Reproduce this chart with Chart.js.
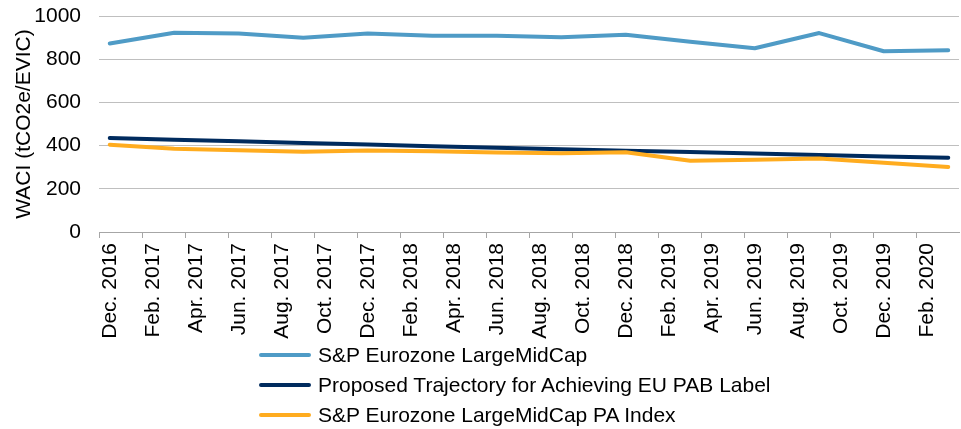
<!DOCTYPE html>
<html>
<head>
<meta charset="utf-8">
<script src="https://cdn.jsdelivr.net/npm/chart.js@4/dist/chart.umd.min.js"></script>
<style>
  html, body { margin: 0; padding: 0; background: #ffffff; }
  #wrap { position: relative; width: 961px; height: 429px; overflow: hidden; }
  #legend { position: absolute; left: 258px; top: 340px; font-family: "Liberation Sans", Arial, sans-serif; font-size: 21px; color: #000; }
  .row { height: 30px; line-height: 30px; display: flex; align-items: center; white-space: nowrap; }
  .swatch { width: 52px; height: 4px; border-radius: 2px; margin: 0 7px 0 1px; }
</style>
</head>
<body>
<div id="wrap">
  <canvas id="c" width="961" height="429"></canvas>
  <div id="legend"></div>
</div>
<script>
// Monthly category slots (date axis in months, labelled every two months)
const monthLabels = [
  "Dec. 2016","Jan. 2017","Feb. 2017","Mar. 2017","Apr. 2017","May 2017","Jun. 2017","Jul. 2017",
  "Aug. 2017","Sep. 2017","Oct. 2017","Nov. 2017","Dec. 2017","Jan. 2018","Feb. 2018","Mar. 2018",
  "Apr. 2018","May 2018","Jun. 2018","Jul. 2018","Aug. 2018","Sep. 2018","Oct. 2018","Nov. 2018",
  "Dec. 2018","Jan. 2019","Feb. 2019","Mar. 2019","Apr. 2019","May 2019","Jun. 2019","Jul. 2019",
  "Aug. 2019","Sep. 2019","Oct. 2019","Nov. 2019","Dec. 2019","Jan. 2020","Feb. 2020","Mar. 2020"
];
// Quarterly observation dates
const quarterDates = [
  "Dec. 2016","Mar. 2017","Jun. 2017","Sep. 2017","Dec. 2017","Mar. 2018","Jun. 2018",
  "Sep. 2018","Dec. 2018","Mar. 2019","Jun. 2019","Sep. 2019","Dec. 2019","Mar. 2020"
];
const seriesNames = [
  "S&P Eurozone LargeMidCap",
  "Proposed Trajectory for Achieving EU PAB Label",
  "S&P Eurozone LargeMidCap PA Index"
];
const eurozoneValues   = [873, 922, 919, 899, 919, 908, 908, 902, 913, 881, 851, 921, 837, 841];
const trajectoryValues = [435, 427, 420, 412, 405, 397, 390, 383, 376, 370, 363, 356, 350, 344];
const paIndexValues    = [404, 385, 378, 372, 377, 374, 368, 365, 369, 330, 334, 340, 321, 301];
const yTicks = [0, 200, 400, 600, 800, 1000];

const seriesColors = ["#4f9bc6", "#002b5e", "#ffac1f"];
const FONT = "'Liberation Sans', Arial, sans-serif";

function pts(vals) { return quarterDates.map((d, i) => ({ x: d, y: vals[i] })); }

const datasets = [eurozoneValues, trajectoryValues, paIndexValues].map((vals, i) => ({
  label: seriesNames[i],
  data: pts(vals),
  borderColor: seriesColors[i],
  backgroundColor: seriesColors[i],
  borderWidth: 4,
  pointRadius: 0,
  pointHoverRadius: 0,
  tension: 0,
  borderCapStyle: "round",
  borderJoinStyle: "round",
  fill: false,
  order: 3 - i
}));

new Chart(document.getElementById("c"), {
  type: "line",
  data: { labels: monthLabels, datasets },
  options: {
    responsive: false,
    animation: false,
    events: [],
    layout: { padding: { top: 16, right: 2, bottom: 0, left: 0 } },
    plugins: { legend: { display: false }, tooltip: { enabled: false }, title: { display: false } },
    scales: {
      x: {
        type: "category",
        offset: true,
        afterFit: (s) => { s.height = 197; s.paddingLeft = 0; s.paddingRight = 0; },
        grid: {
          offset: true,
          drawOnChartArea: false,
          drawTicks: true,
          tickLength: 6,
          tickWidth: 1,
          tickColor: (ctx) => (ctx.index % 2 === 0 ? "#a6a6a6" : "rgba(0,0,0,0)")
        },
        border: { display: true, color: "#a6a6a6", width: 1 },
        ticks: {
          autoSkip: false,
          minRotation: 90,
          maxRotation: 90,
          padding: 5,
          color: "#000",
          font: { family: FONT, size: 21 },
          callback: function (v, i) { return i % 2 === 0 ? monthLabels[i] : ""; }
        }
      },
      y: {
        min: 0,
        max: 1000,
        afterFit: (s) => { s.width = 99; s.paddingTop = 0; s.paddingBottom = 0; },
        afterBuildTicks: (s) => { s.ticks = yTicks.map(v => ({ value: v })); },
        grid: { color: "#bfbfbf", lineWidth: 1, drawTicks: false },
        border: { display: false },
        ticks: {
          padding: 18, color: "#000", font: { family: FONT, size: 21 },
          callback: (v) => String(v)
        },
        title: {
          display: true,
          text: "WACI (tCO2e/EVIC)",
          color: "#000",
          font: { family: FONT, size: 21 },
          padding: { top: 12, bottom: 0 }
        }
      }
    }
  }
});

// HTML legend stacked vertically below the chart
const legend = document.getElementById("legend");
seriesNames.forEach((name, i) => {
  const row = document.createElement("div");
  row.className = "row";
  const sw = document.createElement("span");
  sw.className = "swatch";
  sw.style.background = seriesColors[i];
  const tx = document.createElement("span");
  tx.textContent = name;
  row.appendChild(sw);
  row.appendChild(tx);
  legend.appendChild(row);
});
</script>
</body>
</html>
